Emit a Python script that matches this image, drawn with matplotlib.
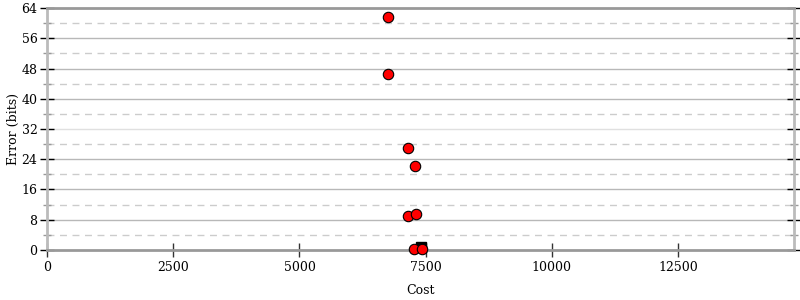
import numpy as np
import matplotlib.pyplot as plt
from matplotlib.ticker import MultipleLocator

# data
cost = [6755, 6755, 7155, 7295, 7150, 7305, 7270, 7420]
error = [61.6, 46.5, 26.9, 22.1, 9.1, 9.6, 0.3, 0.3]
best_cost = [7410]
best_error = [0.8]

plt.rcParams['font.family'] = 'DejaVu Serif'
plt.rcParams['font.size'] = 9

fig = plt.figure(figsize=(8, 3), dpi=100)
ax = fig.add_axes([0.059, 0.1667, 0.9335, 0.8066])

# grid: solid at major, dashed at minor
for y in np.arange(8, 64, 8):
    ax.axhline(y, color='#e0e0e0' if y == 32 else '#b8b8b8', lw=1, zorder=0)
for y in np.arange(4, 64, 8):
    ax.axhline(y, color='#cccccc', lw=1, ls=(0, (5, 4)), zorder=0)

ax.plot(best_cost, best_error, 's', color='black', markersize=7.5, clip_on=False, zorder=2)
ax.plot(cost, error, 'o', color='red', markeredgecolor='black', markeredgewidth=0.8,
        markersize=7.5, clip_on=False, zorder=3)

ax.set_xlim(0, 14800)
ax.set_ylim(0, 64)
ax.xaxis.set_major_locator(MultipleLocator(2500))
ax.yaxis.set_major_locator(MultipleLocator(8))
ax.yaxis.set_minor_locator(MultipleLocator(4))

for s in ['top', 'bottom']:
    ax.spines[s].set_color('#999999')
    ax.spines[s].set_linewidth(2)
for s in ['left', 'right']:
    ax.spines[s].set_color('#bbbbbb')
    ax.spines[s].set_linewidth(2)

ax.tick_params(axis='y', which='major', direction='inout', length=10, width=1,
               color='black', left=True, right=True, pad=2)
ax.tick_params(axis='y', which='minor', direction='inout', length=6, width=1,
               color='#999999', left=True, right=True)
ax.tick_params(axis='x', which='major', direction='inout', length=10, width=1,
               color='#333333', top=False, pad=3)

ax.set_xlabel('Cost', labelpad=7)
ax.set_ylabel('Error (bits)', labelpad=1)

plt.savefig('out.png', dpi=100)
